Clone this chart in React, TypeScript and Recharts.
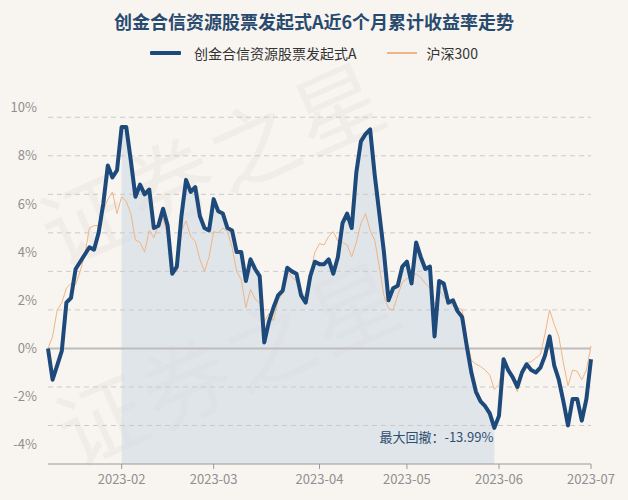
import React from 'react';
import {
  ComposedChart,
  Line,
  Area,
  XAxis,
  YAxis,
  ReferenceLine,
  ReferenceDot,
} from 'recharts';

const title = '创金合信资源股票发起式A近6个月累计收益率走势';
const seriesNames = ['创金合信资源股票发起式A', '沪深300'];

// cumulative return (%), one point per trading day
const fundReturn = [
  0, -1.3, -0.7, -0.1, 1.9, 2.1, 3.3, 3.6, 3.9, 4.2,
  4.1, 4.8, 6.0, 7.6, 7.1, 7.4, 9.2, 9.2, 7.8, 6.3,
  6.8, 6.4, 6.6, 5.0, 5.1, 5.8, 5.1, 3.1, 3.4, 5.5,
  7.0, 6.5, 6.7, 5.5, 5.0, 4.9, 6.2, 5.7, 5.6, 5.0,
  4.9, 4.0, 4.0, 2.8, 3.7, 3.3, 3.0, 0.25, 1.1, 1.7,
  2.2, 2.4, 3.35, 3.2, 3.1, 2.2, 1.9, 3.0, 3.6, 3.5,
  3.5, 3.7, 3.1, 3.8, 5.2, 5.6, 5.0, 7.3, 8.6, 8.9,
  9.1, 7.2, 5.6, 4.0, 2.0, 2.5, 2.6, 3.4, 3.6, 2.7,
  4.4, 3.8, 3.3, 3.4, 0.5, 2.8, 2.7, 1.9, 2.0, 1.55,
  1.3, 0.1, -1.0, -1.8, -2.2, -2.4, -2.7, -3.3, -2.8, -0.45,
  -0.9, -1.2, -1.6, -1.0, -0.66, -0.9, -1.0, -0.8, -0.3, 0.5,
  -0.7, -1.3, -2.2, -3.2, -2.1, -2.1, -3.0, -2.1, -0.45,
];

const hs300Return = [
  0, 0.5, 1.6, 1.9, 2.5, 2.7, 2.65, 3.2, 3.9, 5.0,
  5.1, 5.1, 5.7, 6.2, 6.5, 5.6, 6.3, 6.1, 5.6, 4.5,
  4.4, 4.0, 4.9, 4.6, 5.15, 5.4, 4.7, 3.3, 3.2, 4.9,
  5.3, 4.65, 4.45, 3.7, 3.2, 3.8, 4.85, 4.8, 5.0, 4.85,
  4.2, 3.2, 2.85, 1.7, 2.45, 2.05, 1.9, 1.1, 1.45, 1.15,
  2.0, 2.3, 3.2, 2.95, 2.8, 2.3, 2.2, 3.1, 4.0, 4.35,
  4.3, 4.65, 4.85, 4.45, 4.4, 4.3, 3.8, 4.4, 5.2, 5.6,
  4.9, 4.5, 3.4, 2.2, 1.65, 1.6, 2.2, 2.75, 2.9, 3.0,
  3.1, 2.95, 2.7, 2.5, 1.8, 2.4, 2.15, 1.95, 1.75, 1.7,
  1.6, 0.4, -0.5, -0.65, -0.75, -0.9, -1.1, -1.7, -1.5, -0.45,
  -0.9, -1.3, -1.8, -1.0, -0.6, -0.55, -0.4, -0.25, 0.6, 1.6,
  1.0, 0.5, -0.6, -1.55, -0.9, -0.95, -1.3, -0.9, 0.1,
];

const monthTickIndex = [16, 36, 59, 78, 98, 118];
const monthTickLabels = ['2023-02', '2023-03', '2023-04', '2023-05', '2023-06', '2023-07'];
const yTicks = [-4, -2, 0, 2, 4, 6, 8, 10];
const gridValues = [-3.2, -1.6, 1.6, 3.2, 4.8, 6.4, 8.0, 9.6];

// max drawdown window (trading-day index)
const drawdownStart = 16;
const drawdownEnd = 97;
const drawdownLabel = '最大回撤：-13.99%';

const FUND_COLOR = '#1d4a7a';
const HS_COLOR = '#efb584';
const FONT = '"Noto Sans CJK SC", "Noto Sans", sans-serif';

const Watermark = ({ text, left, top }: { text: string; left: number; top: number }) => (
  <div
    style={{
      position: 'absolute',
      left,
      top,
      fontSize: 88,
      lineHeight: '96px',
      color: 'rgba(120,110,100,0.06)',
      transform: 'rotate(-24deg)',
      transformOrigin: 'left top',
      whiteSpace: 'nowrap',
      pointerEvents: 'none',
      letterSpacing: 4,
    }}
  >
    {text}
  </div>
);

export default function App() {
  const data = fundReturn.map((v, i) => ({
    idx: i,
    fund: v,
    hs300: hs300Return[i],
    dd: i >= drawdownStart && i <= drawdownEnd ? v : null,
  }));

  return (
    <div
      style={{
        position: 'absolute',
        left: 0,
        top: 0,
        width: 628,
        height: 500,
        background: '#f8f5f1',
        overflow: 'hidden',
        fontFamily: FONT,
      }}
    >
      <Watermark text="证券之星" left={24} top={190} />
      <Watermark text="证券之星" left={40} top={390} />

      <div
        style={{
          position: 'absolute',
          top: 8,
          left: 0,
          width: 628,
          textAlign: 'center',
          fontSize: 18,
          lineHeight: '26px',
          fontWeight: 'bold',
          color: '#284a6e',
        }}
      >
        {title}
      </div>

      <div
        style={{
          position: 'absolute',
          top: 44,
          left: 0,
          width: 628,
          height: 18,
          display: 'flex',
          justifyContent: 'center',
          alignItems: 'center',
          fontSize: 14,
          color: '#333',
        }}
      >
        <span style={{ width: 31, height: 4, background: FUND_COLOR, borderRadius: 1 }} />
        <span style={{ marginLeft: 13 }}>{seriesNames[0]}</span>
        <span style={{ width: 30, height: 1.5, background: HS_COLOR, marginLeft: 30 }} />
        <span style={{ marginLeft: 10 }}>{seriesNames[1]}</span>
      </div>

      <div style={{ position: 'absolute', left: 0, top: 0 }}>
        <ComposedChart
          width={628}
          height={500}
          data={data}
          margin={{ top: 98, right: 37, bottom: 5, left: 8 }}
        >
          <XAxis
            dataKey="idx"
            type="number"
            domain={[0, 118]}
            ticks={monthTickIndex}
            interval={0}
            tickFormatter={(v: number) => monthTickLabels[monthTickIndex.indexOf(v)]}
            axisLine={{ stroke: '#9a9a9a' }}
            tickLine={{ stroke: '#9a9a9a' }}
            tickSize={5}
            tickMargin={6}
            tick={{ fill: '#8f8f8f', fontSize: 13, fontFamily: FONT }}
            height={31}
          />
          <YAxis
            type="number"
            domain={[-4.8, 10.4]}
            ticks={yTicks}
            allowDataOverflow
            tickFormatter={(v: number) => `${v}%`}
            axisLine={false}
            tickLine={false}
            tickSize={6}
            tickMargin={5}
            tick={{ fill: '#8f8f8f', fontSize: 13, fontFamily: FONT }}
            width={40}
          />
          <Area
            dataKey="dd"
            type="linear"
            baseValue={-4.8}
            stroke="none"
            fill="#d8dfe6"
            fillOpacity={0.75}
            isAnimationActive={false}
            connectNulls={false}
          />
          {gridValues.map((g) => (
            <ReferenceLine
              key={g}
              y={g}
              stroke="#cacaca"
              strokeWidth={1}
              strokeDasharray="5 4"
              ifOverflow="extendDomain"
            />
          ))}
          <ReferenceLine y={0} stroke="#bdbdbd" strokeWidth={2} />
          <Line
            dataKey="hs300"
            type="linear"
            stroke={HS_COLOR}
            strokeWidth={1}
            dot={false}
            isAnimationActive={false}
          />
          <Line
            dataKey="fund"
            type="linear"
            stroke={FUND_COLOR}
            strokeWidth={4}
            strokeLinejoin="round"
            dot={false}
            isAnimationActive={false}
          />
          <ReferenceDot
            x={drawdownEnd}
            y={fundReturn[drawdownEnd]}
            r={0}
            fill="none"
            stroke="none"
            label={(props: any) => {
              const vb = props.viewBox || {};
              return (
                <text
                  x={vb.x - 1}
                  y={vb.y + 14}
                  textAnchor="end"
                  fill="#2d4e70"
                  fontSize={13}
                  fontFamily={FONT}
                >
                  {drawdownLabel}
                </text>
              );
            }}
          />
        </ComposedChart>
      </div>
    </div>
  );
}
